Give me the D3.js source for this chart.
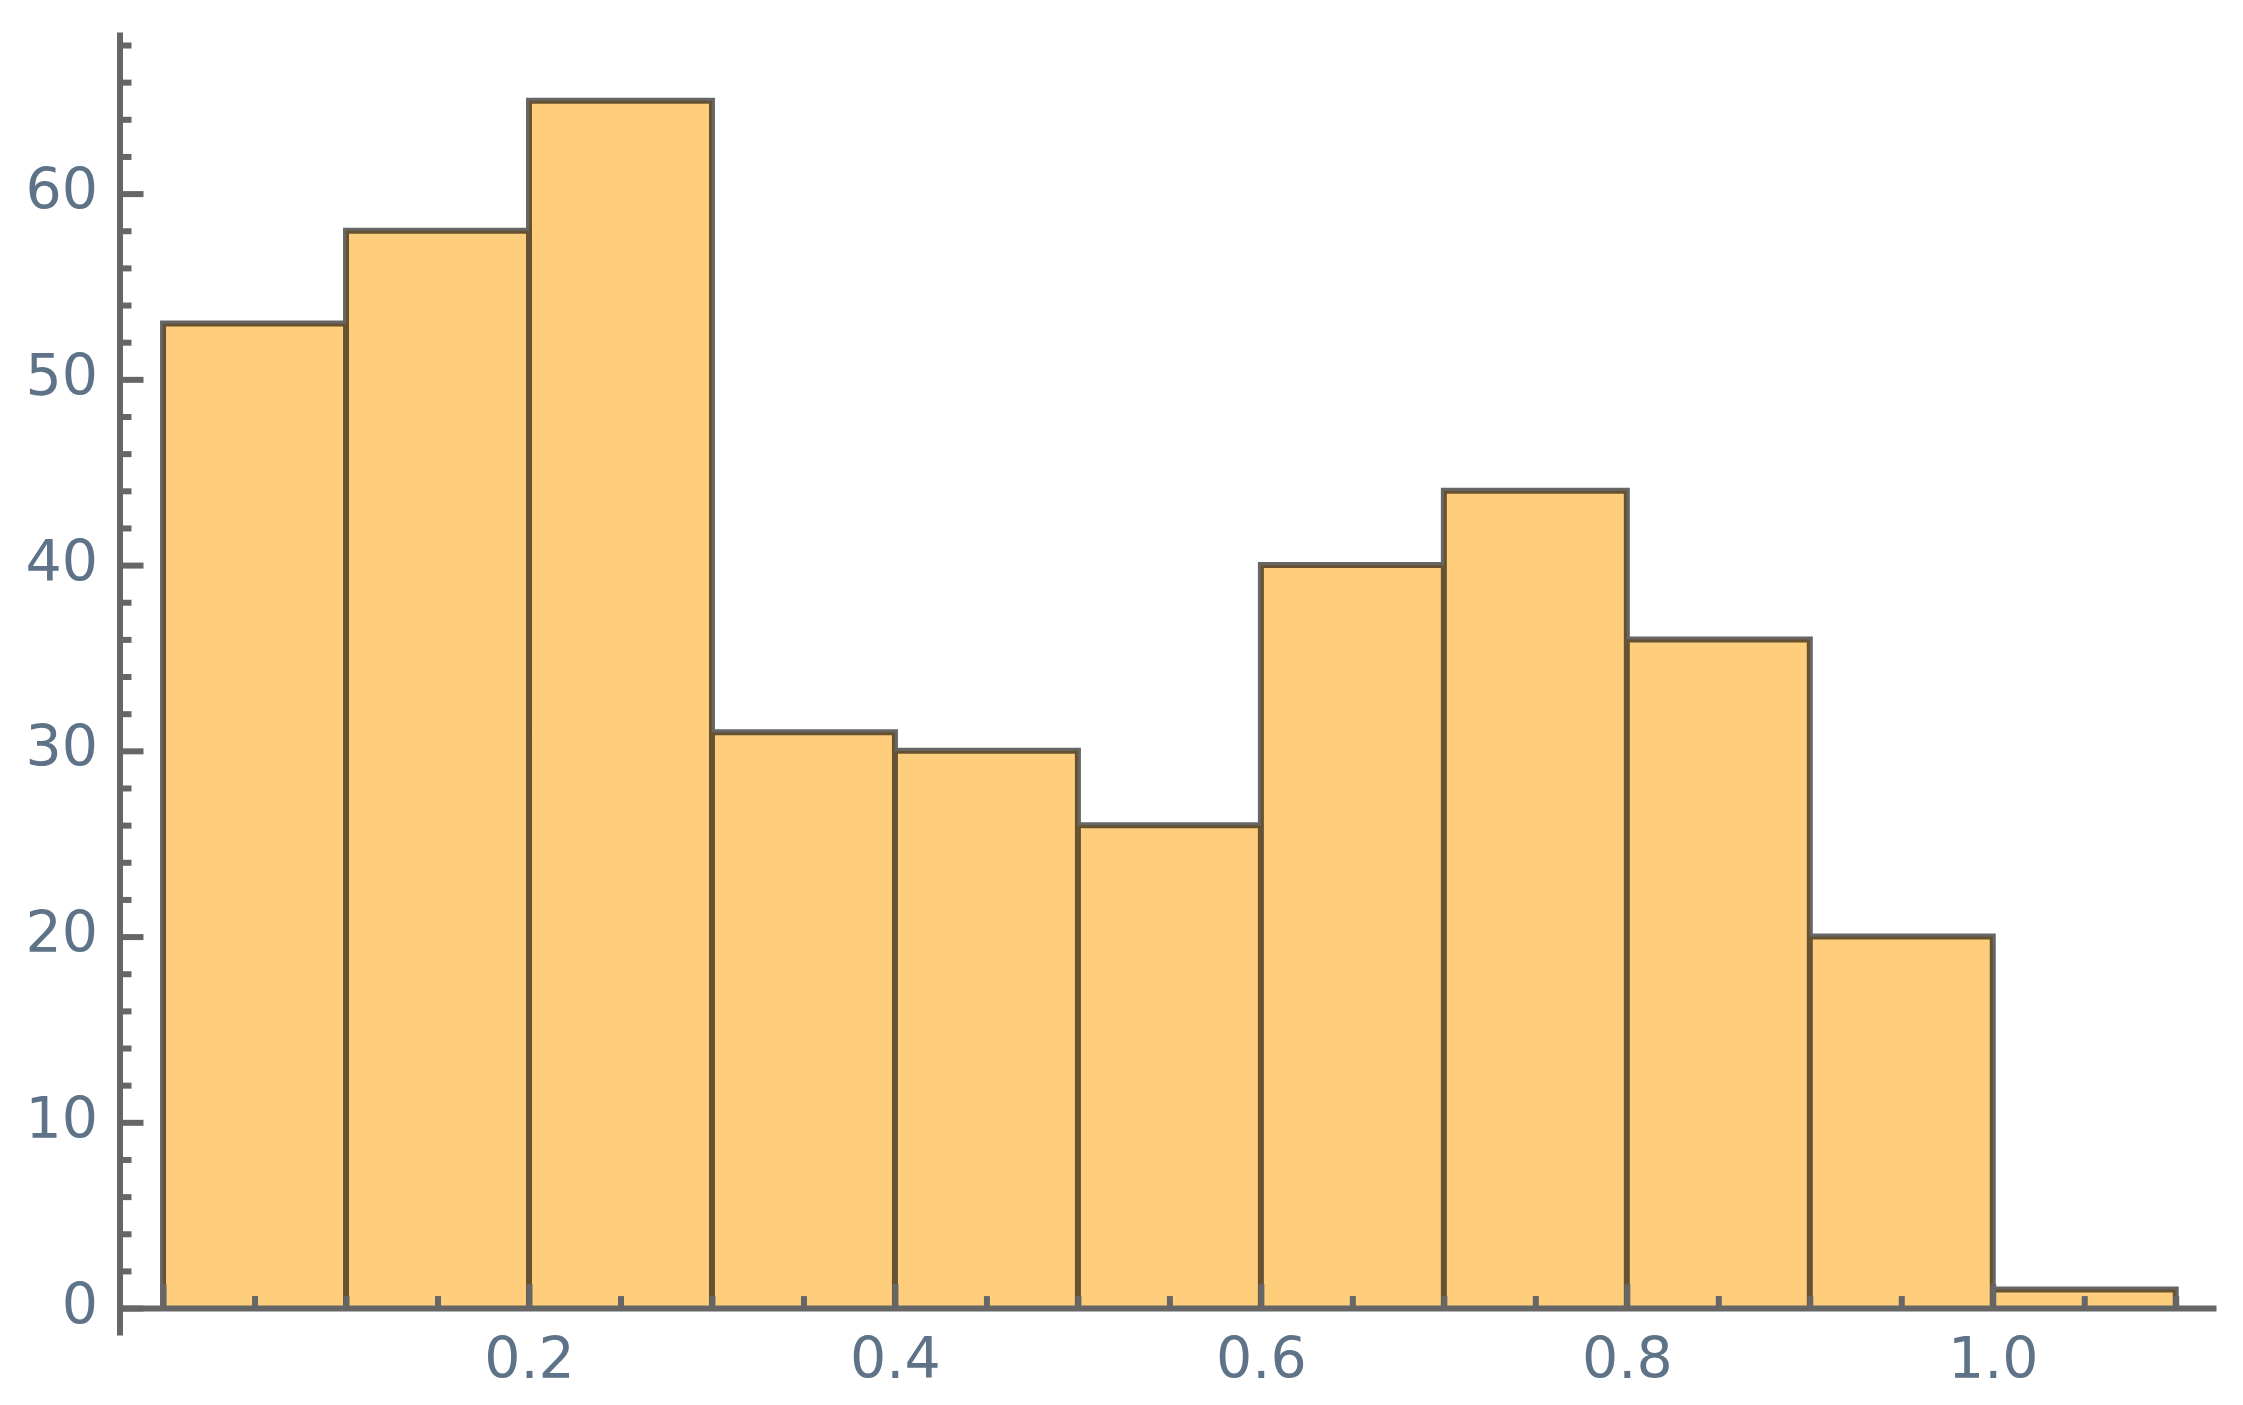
<!DOCTYPE html>
<html>
<head>
<meta charset="utf-8">
<script src="https://cdn.jsdelivr.net/npm/d3@7"></script>
<style>
  html, body { margin: 0; padding: 0; background: #fff; }
  svg { display: block; }
  .axis text { font-family: "DejaVu Sans", sans-serif; font-size: 57px; fill: #5e7387; }
  .axis line, .axis path { stroke: #666; stroke-width: 6; fill: none; }
</style>
</head>
<body>
<svg id="chart"></svg>
<script>
// Histogram bins (width 0.1) and their counts
var binEdges = [0, 0.1, 0.2, 0.3, 0.4, 0.5, 0.6, 0.7, 0.8, 0.9, 1.0, 1.1];
var counts = [53, 58, 65, 31, 30, 26, 40, 44, 36, 20, 1];

// Tick values and their labels
var xTickValues = [0, 0.2, 0.4, 0.6, 0.8, 1.0];
var xTickLabels = ["", "0.2", "0.4", "0.6", "0.8", "1.0"];
var yTickValues = [0, 10, 20, 30, 40, 50, 60];
var yTickLabels = ["0", "10", "20", "30", "40", "50", "60"];

// plot range incl. padding (axes run over this)
var xDomain = [-0.0238, 1.122];
var yDomain = [-1.45, 68.7];

var dims = { width: 2243, height: 1405, left: 119.5, right: 2216, top: 32, bottom: 1335 };

var svg = d3.select("#chart")
  .attr("width", dims.width)
  .attr("height", dims.height);

var x = d3.scaleLinear().domain(xDomain).range([dims.left, dims.right]);
var y = d3.scaleLinear().domain(yDomain).range([dims.bottom, dims.top]);

var bins = counts.map(function(c, i) {
  return { x0: binEdges[i], x1: binEdges[i + 1], count: c };
});

// bar fills
svg.append("g")
  .attr("class", "bars")
  .selectAll("rect")
  .data(bins)
  .enter().append("rect")
  .attr("x", function(d) { return x(d.x0); })
  .attr("width", function(d) { return x(d.x1) - x(d.x0); })
  .attr("y", function(d) { return y(d.count); })
  .attr("height", function(d) { return y(0) - y(d.count); })
  .attr("fill", "rgb(254,206,124)");

// bar edges as one path so shared edges don't double up
var edgePath = d3.path();
bins.forEach(function(d) {
  edgePath.moveTo(x(d.x0), y(0));
  edgePath.lineTo(x(d.x0), y(d.count));
  edgePath.lineTo(x(d.x1), y(d.count));
  edgePath.lineTo(x(d.x1), y(0));
});
svg.append("path")
  .attr("d", edgePath.toString())
  .attr("fill", "none")
  .attr("stroke", "#000")
  .attr("stroke-opacity", 0.6)
  .attr("stroke-width", 6);

// minor ticks
var yMinor = d3.range(2, 69, 2).filter(function(v) { return v % 10 !== 0; });
var xMinor = d3.range(1, 23).map(function(i) { return i * 0.05; })
  .filter(function(v) { return Math.abs(v * 5 - Math.round(v * 5)) > 1e-6; });

// y axis
var yAxisG = svg.append("g")
  .attr("class", "axis y-axis")
  .attr("transform", "translate(" + x(xDomain[0]) + ",0)");

yAxisG.append("g")
  .call(d3.axisLeft(y).tickValues(yMinor).tickSizeInner(-12).tickSizeOuter(0).tickFormat(""))
  .call(function(g) { g.select(".domain").remove(); g.selectAll("text").remove(); });

yAxisG.append("g")
  .call(d3.axisLeft(y)
    .tickValues(yTickValues)
    .tickFormat(function(d, i) { return yTickLabels[i]; })
    .tickSizeInner(-24)
    .tickSizeOuter(0)
    .tickPadding(21.5))
  .selectAll("text")
  .attr("dy", "15px");

// x axis
var xAxisG = svg.append("g")
  .attr("class", "axis x-axis")
  .attr("transform", "translate(0," + y(0) + ")");

xAxisG.append("g")
  .call(d3.axisBottom(x).tickValues(xMinor).tickSizeInner(-12).tickSizeOuter(0).tickFormat(""))
  .call(function(g) { g.select(".domain").remove(); g.selectAll("text").remove(); });

xAxisG.append("g")
  .call(d3.axisBottom(x)
    .tickValues(xTickValues)
    .tickFormat(function(d, i) { return xTickLabels[i]; })
    .tickSizeInner(-24)
    .tickSizeOuter(0))
  .selectAll("text")
  .attr("y", 70)
  .attr("dy", null);
</script>
</body>
</html>
